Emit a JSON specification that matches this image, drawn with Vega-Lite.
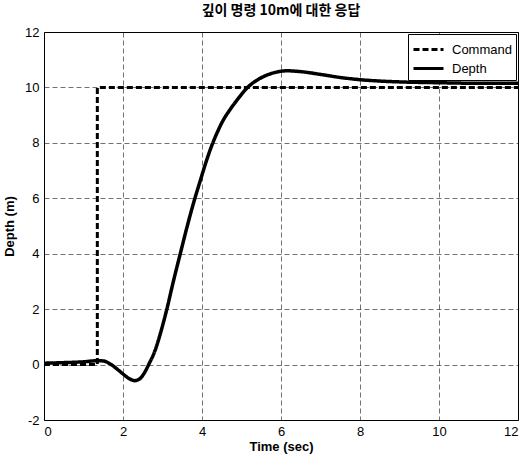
{
  "$schema": "https://vega.github.io/schema/vega-lite/v6.json",
  "width": 474,
  "height": 388,
  "autosize": {"type": "none"},
  "padding": {"left": 44, "top": 32, "right": 7, "bottom": 37},
  "background": "white",
  "title": {"text": "깊이 명령 10m에 대한 응답", "font": "Noto Sans CJK KR", "fontSize": 14, "fontWeight": "bold", "color": "black", "anchor": "middle", "offset": 8},
  "config": {
    "view": {"stroke": "black", "strokeWidth": 1},
    "axis": {
      "labelFont": "Liberation Sans", "labelFontSize": 13, "labelColor": "black",
      "titleFont": "Liberation Sans", "titleFontSize": 13, "titleFontWeight": "bold", "titleColor": "black",
      "grid": true, "gridColor": "black", "gridDash": [5, 3], "gridWidth": 0.7, "gridOpacity": 0.8,
      "domain": false, "ticks": false, "labelPadding": 5
    },
    "legend": {
      "orient": "top-right", "offset": 2, "fillColor": "white", "strokeColor": "black", "padding": 4,
      "labelFont": "Liberation Sans", "labelFontSize": 13, "labelColor": "black",
      "symbolType": "M-1.5,0H1.5", "symbolSize": 400, "symbolStrokeWidth": 3, "symbolStrokeColor": "black",
      "symbolOffset": 5, "rowPadding": 0, "labelOffset": 12
    }
  },
  "datasets": {
    "cmd": [
      {"t": 0, "v": 0, "series": "Command"},
      {"t": 1.35, "v": 10, "series": "Command"},
      {"t": 12, "v": 10, "series": "Command"}
    ],
    "depth": [
      {"t": 0, "v": 0.05, "series": "Depth"},
      {"t": 0.5, "v": 0.07, "series": "Depth"},
      {"t": 1.0, "v": 0.1, "series": "Depth"},
      {"t": 1.35, "v": 0.14, "series": "Depth"},
      {"t": 1.5, "v": 0.13, "series": "Depth"},
      {"t": 1.7, "v": 0.0, "series": "Depth"},
      {"t": 1.9, "v": -0.22, "series": "Depth"},
      {"t": 2.0, "v": -0.34, "series": "Depth"},
      {"t": 2.15, "v": -0.5, "series": "Depth"},
      {"t": 2.3, "v": -0.58, "series": "Depth"},
      {"t": 2.45, "v": -0.48, "series": "Depth"},
      {"t": 2.58, "v": -0.2, "series": "Depth"},
      {"t": 2.65, "v": 0.0, "series": "Depth"},
      {"t": 2.82, "v": 0.54, "series": "Depth"},
      {"t": 2.95, "v": 1.14, "series": "Depth"},
      {"t": 3.11, "v": 2.0, "series": "Depth"},
      {"t": 3.28, "v": 3.03, "series": "Depth"},
      {"t": 3.45, "v": 4.0, "series": "Depth"},
      {"t": 3.62, "v": 4.96, "series": "Depth"},
      {"t": 3.8, "v": 5.9, "series": "Depth"},
      {"t": 3.97, "v": 6.7, "series": "Depth"},
      {"t": 4.1, "v": 7.3, "series": "Depth"},
      {"t": 4.26, "v": 7.95, "series": "Depth"},
      {"t": 4.4, "v": 8.42, "series": "Depth"},
      {"t": 4.53, "v": 8.8, "series": "Depth"},
      {"t": 4.7, "v": 9.18, "series": "Depth"},
      {"t": 4.89, "v": 9.55, "series": "Depth"},
      {"t": 5.0, "v": 9.75, "series": "Depth"},
      {"t": 5.12, "v": 9.95, "series": "Depth"},
      {"t": 5.25, "v": 10.12, "series": "Depth"},
      {"t": 5.38, "v": 10.25, "series": "Depth"},
      {"t": 5.6, "v": 10.42, "series": "Depth"},
      {"t": 5.85, "v": 10.54, "series": "Depth"},
      {"t": 6.15, "v": 10.6, "series": "Depth"},
      {"t": 6.5, "v": 10.57, "series": "Depth"},
      {"t": 7.0, "v": 10.47, "series": "Depth"},
      {"t": 7.5, "v": 10.36, "series": "Depth"},
      {"t": 8.0, "v": 10.28, "series": "Depth"},
      {"t": 8.5, "v": 10.23, "series": "Depth"},
      {"t": 9.0, "v": 10.2, "series": "Depth"},
      {"t": 10.0, "v": 10.17, "series": "Depth"},
      {"t": 11.0, "v": 10.15, "series": "Depth"},
      {"t": 12.0, "v": 10.15, "series": "Depth"}
    ]
  },
  "encoding": {
    "x": {"field": "t", "type": "quantitative", "title": "Time (sec)", "scale": {"domain": [0, 12], "nice": false, "zero": false}, "axis": {"values": [0, 2, 4, 6, 8, 10, 12], "titlePadding": 2, "labelExpr": "'' + datum.value"}},
    "y": {"field": "v", "type": "quantitative", "title": "Depth (m)", "scale": {"domain": [-2, 12], "nice": false}, "axis": {"values": [-2, 0, 2, 4, 6, 8, 10, 12], "titlePadding": 8, "labelExpr": "'' + datum.value"}},
    "color": {"field": "series", "type": "nominal", "scale": {"domain": ["Command", "Depth"], "range": ["black", "black"]}, "legend": {"title": null}},
    "strokeDash": {"field": "series", "type": "nominal", "scale": {"domain": ["Command", "Depth"], "range": [[6, 3], [1, 0]]}, "legend": {"title": null}}
  },
  "layer": [
    {"data": {"name": "cmd"}, "mark": {"type": "line", "interpolate": "step-after", "strokeWidth": 3}},
    {"data": {"name": "depth"}, "mark": {"type": "line", "interpolate": "monotone", "strokeWidth": 3.5}}
  ]
}
